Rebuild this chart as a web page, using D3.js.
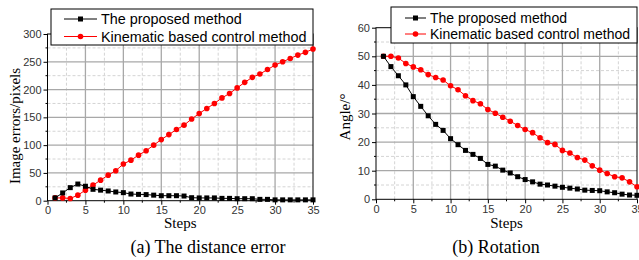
<!DOCTYPE html>
<html>
<head>
<meta charset="utf-8">
<script src="https://cdn.jsdelivr.net/npm/d3@7"></script>
<style>
body { margin: 0; background: #fff; }
svg { display: block; }
.tick-label { font-family: "Liberation Sans", Arial, sans-serif; font-size: 11px; fill: #333; }
.legend-text { font-family: "Liberation Sans", Arial, sans-serif; fill: #000; }
.serif { font-family: "Liberation Serif", "Times New Roman", serif; fill: #000; }
</style>
</head>
<body>
<script>
var W = 639, H = 260;

// steps 1..35
var steps = d3.range(1, 36);

// (a) distance error, pixels
var distProposed = [5, 14, 23.5, 30, 26, 20.5, 19, 17.5, 15.7, 14.5, 12, 11.4, 11, 10, 9, 9, 9, 8.4, 5.4, 5,
	5, 5, 4.2, 4.2, 3.6, 3.6, 3.6, 2.4, 2.4, 1.5, 1.5, 1.5, 1.5, 1.5, 1.5];
var distKinematic = [5, 5, 4, 10, 19, 28, 37, 46, 54, 66, 73, 82, 90, 100, 110, 119, 128, 136, 147, 157,
	166, 175, 185, 193, 203, 213, 222, 228, 236, 244, 250, 256, 262, 267, 273];

// (b) rotation, degrees
var rotProposed = [50, 46.4, 43.2, 40, 35.9, 32.5, 29.2, 26.2, 24.1, 21.2, 19.1, 17.1, 15.7, 14.3, 12.2, 11.6,
	10.2, 9.2, 7.9, 6.9, 6.1, 5.3, 5.0, 4.6, 4.2, 3.9, 3.6, 3.2, 3.1, 3.0, 2.6, 2.3, 1.8, 1.5, 1.4];
var rotKinematic = [50, 50, 49.4, 47.5, 46.3, 45.3, 43.6, 42.6, 41.7, 39.7, 38.3, 36.2, 34.5, 33.4, 31.4, 30.1,
	28.7, 27.3, 25.8, 24.4, 23.3, 21.5, 19.8, 19.2, 17.1, 16.2, 14.6, 13.7, 11.7, 10.2, 9.0, 7.9, 7.5, 6.1, 4.4];

var seriesNames = ['The proposed method', 'Kinematic based control method'];
var xTicks = [0, 5, 10, 15, 20, 25, 30, 35];
var distTicks = [0, 50, 100, 150, 200, 250, 300];
var rotTicks = [0, 10, 20, 30, 40, 50, 60];

var svg = d3.select('body').append('svg').attr('width', W).attr('height', H);

function drawPanel(p) {
	var x = d3.scaleLinear().domain([0, 35]).range([p.x0, p.x1]);
	var y = d3.scaleLinear().domain([0, p.ymax]).range([p.y0, p.y1]);
	var g = svg.append('g');

	// minor grid (dashed)
	var xMinor = d3.range(2.5, 35, 5);
	var yStep = p.yTicks[1] - p.yTicks[0];
	var yMinor = d3.range(yStep / 2, p.ymax, yStep);
	g.selectAll('.xminor').data(xMinor).enter().append('line')
		.attr('x1', x).attr('x2', x).attr('y1', p.y0).attr('y2', p.y1)
		.attr('stroke', '#d4d4d4').attr('stroke-dasharray', '3,2').attr('stroke-width', 1);
	g.selectAll('.yminor').data(yMinor).enter().append('line')
		.attr('x1', p.x0).attr('x2', p.x1).attr('y1', y).attr('y2', y)
		.attr('stroke', '#d4d4d4').attr('stroke-dasharray', '3,2').attr('stroke-width', 1);

	// major grid
	g.selectAll('.xmajor').data(p.xTicks.slice(1, -1)).enter().append('line')
		.attr('x1', x).attr('x2', x).attr('y1', p.y0).attr('y2', p.y1)
		.attr('stroke', '#a8a8a8').attr('stroke-width', 1.3);
	g.selectAll('.ymajor').data(p.yTicks.slice(1, -1)).enter().append('line')
		.attr('x1', p.x0).attr('x2', p.x1).attr('y1', y).attr('y2', y)
		.attr('stroke', '#a8a8a8').attr('stroke-width', 1.3);

	// axes
	var ax = g.append('g').attr('transform', 'translate(0,' + p.y0 + ')')
		.call(d3.axisBottom(x).tickValues(p.xTicks).tickSize(4).tickPadding(2));
	var ay = g.append('g').attr('transform', 'translate(' + p.x0 + ',0)')
		.call(d3.axisLeft(y).tickValues(p.yTicks).tickSize(4).tickPadding(2));
	[ax, ay].forEach(function (a) {
		a.select('.domain').remove();
		a.selectAll('.tick line').attr('stroke', '#000');
		a.selectAll('.tick text').attr('class', 'tick-label').attr('font-size', null).attr('font-family', null).attr('fill', null);
	});
	// minor ticks
	g.selectAll('.xmt').data(xMinor).enter().append('line')
		.attr('x1', x).attr('x2', x).attr('y1', p.y0).attr('y2', p.y0 + 2).attr('stroke', '#000');
	g.selectAll('.ymt').data(yMinor).enter().append('line')
		.attr('x1', p.x0 - 2).attr('x2', p.x0).attr('y1', y).attr('y2', y).attr('stroke', '#000');

	// frame
	g.append('rect').attr('x', p.x0).attr('y', p.y1).attr('width', p.x1 - p.x0).attr('height', p.y0 - p.y1)
		.attr('fill', 'none').attr('stroke', '#000').attr('stroke-width', 1);

	// series
	var line = d3.line().x(function (d, i) { return x(steps[i]); }).y(function (d) { return y(d); });
	g.append('path').datum(p.red).attr('d', line).attr('fill', 'none').attr('stroke', '#ff0000').attr('stroke-width', 1);
	g.selectAll('.rc').data(p.red).enter().append('circle')
		.attr('cx', function (d, i) { return x(steps[i]); }).attr('cy', y).attr('r', 2.8).attr('fill', '#ff0000');
	g.append('path').datum(p.black).attr('d', line).attr('fill', 'none').attr('stroke', '#000').attr('stroke-width', 1);
	g.selectAll('.bs').data(p.black).enter().append('rect')
		.attr('x', function (d, i) { return x(steps[i]) - 2.5; }).attr('y', function (d) { return y(d) - 2.5; })
		.attr('width', 5).attr('height', 5).attr('fill', '#000');

	// legend
	var lg = g.append('g');
	lg.append('rect').attr('x', p.lx0).attr('y', p.ly0).attr('width', p.lx1 - p.lx0).attr('height', p.ly1 - p.ly0)
		.attr('fill', '#fff').attr('stroke', '#000').attr('stroke-width', 1);
	seriesNames.forEach(function (name, i) {
		var yy = p.legRows[i];
		var col = i == 0 ? '#000' : '#ff0000';
		lg.append('line').attr('x1', p.legLine[0]).attr('x2', p.legLine[1]).attr('y1', yy).attr('y2', yy)
			.attr('stroke', col).attr('stroke-width', 1);
		var mx = (p.legLine[0] + p.legLine[1]) / 2;
		if (i == 0) lg.append('rect').attr('x', mx - 2.5).attr('y', yy - 2.5).attr('width', 5).attr('height', 5).attr('fill', col);
		else lg.append('circle').attr('cx', mx).attr('cy', yy).attr('r', 2.8).attr('fill', col);
		lg.append('text').attr('class', 'legend-text').attr('font-size', p.legFont)
			.attr('x', p.legLine[1] + 4).attr('y', yy).attr('dy', '0.35em').text(name);
	});

	// axis titles and caption
	g.append('text').attr('class', 'serif').attr('font-size', 15).attr('text-anchor', 'middle')
		.attr('x', (p.x0 + p.x1) / 2).attr('y', 228).text('Steps');
	g.append('text').attr('class', 'serif').attr('font-size', 15).attr('text-anchor', 'middle')
		.attr('transform', 'translate(' + p.ylabX + ',' + p.ylabY + ') rotate(-90)').text(p.ylabel);
	g.append('text').attr('class', 'serif').attr('font-size', 18).attr('text-anchor', 'middle')
		.attr('x', p.capX).attr('y', 253).text(p.caption);
}

drawPanel({
	x0: 47.5, x1: 313, y0: 200.7, y1: 34, ymax: 300,
	xTicks: xTicks, yTicks: distTicks,
	black: distProposed, red: distKinematic,
	lx0: 51, lx1: 313, ly0: 9, ly1: 45, legLine: [64, 97], legRows: [19, 36.5], legFont: 14.4,
	ylabel: 'Image errors/pixels', ylabX: 20, ylabY: 126,
	caption: '(a) The distance error', capX: 208
});

drawPanel({
	x0: 376, x1: 637, y0: 199.3, y1: 27.7, ymax: 60,
	xTicks: xTicks, yTicks: rotTicks,
	black: rotProposed, red: rotKinematic,
	lx0: 391, lx1: 637, ly0: 7, ly1: 43, legLine: [405, 426], legRows: [18, 34], legFont: 14,
	ylabel: 'Angle/\u00b0', ylabX: 350, ylabY: 117,
	caption: '(b) Rotation', capX: 496
});
</script>
</body>
</html>
